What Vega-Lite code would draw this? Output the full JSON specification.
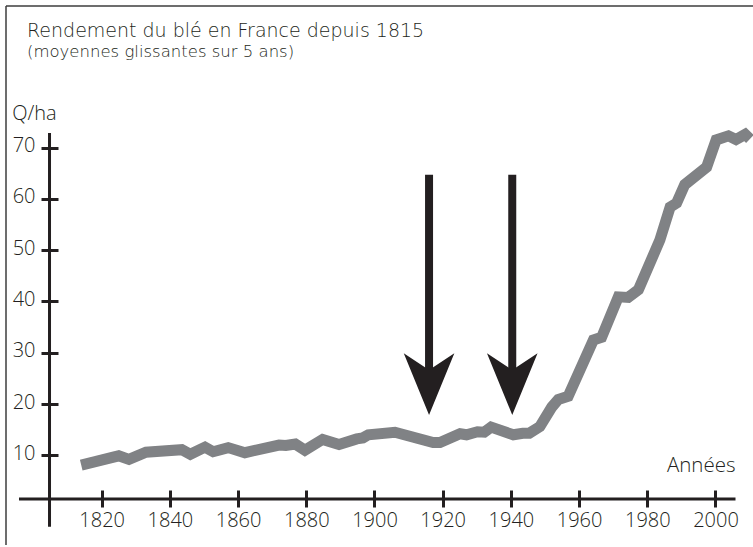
{
  "$schema": "https://vega.github.io/schema/vega-lite/v6.json",
  "width": 753,
  "height": 547,
  "autosize": {"type": "none"},
  "padding": 0,
  "background": "white",
  "config": {"view": {"stroke": null}},
  "title": {
    "text": "Rendement du blé en France depuis 1815",
    "subtitle": "(moyennes glissantes sur 5 ans)",
    "anchor": "start",
    "frame": "group",
    "orient": "top",
    "offset": -60.5,
    "dx": 27,
    "font": "DejaVu Sans",
    "fontWeight": 200,
    "fontSize": 19,
    "color": "#231f20",
    "subtitleFont": "DejaVu Sans",
    "subtitleFontWeight": 200,
    "subtitleFontSize": 16.5,
    "subtitleColor": "#231f20",
    "subtitlePadding": 3.5
  },
  "datasets": {
    "wheat": [
      {"year": 1814, "yield": 8.1},
      {"year": 1825, "yield": 9.9},
      {"year": 1828, "yield": 9.2},
      {"year": 1833, "yield": 10.6},
      {"year": 1843.5, "yield": 11.1},
      {"year": 1846, "yield": 10.2},
      {"year": 1850.3, "yield": 11.6},
      {"year": 1852.7, "yield": 10.7},
      {"year": 1857.1, "yield": 11.5},
      {"year": 1862, "yield": 10.5},
      {"year": 1872, "yield": 12.0},
      {"year": 1874, "yield": 11.9},
      {"year": 1876.8, "yield": 12.2},
      {"year": 1879.6, "yield": 11.0},
      {"year": 1884.8, "yield": 13.1},
      {"year": 1889.6, "yield": 12.1},
      {"year": 1894.8, "yield": 13.2},
      {"year": 1896.6, "yield": 13.4},
      {"year": 1898.2, "yield": 14.0},
      {"year": 1906, "yield": 14.5},
      {"year": 1917.2, "yield": 12.5},
      {"year": 1919.2, "yield": 12.5},
      {"year": 1925.1, "yield": 14.2},
      {"year": 1927, "yield": 14.0},
      {"year": 1930.2, "yield": 14.6},
      {"year": 1932.2, "yield": 14.5},
      {"year": 1934.2, "yield": 15.5},
      {"year": 1940.7, "yield": 14.0},
      {"year": 1943.5, "yield": 14.3},
      {"year": 1945.4, "yield": 14.3},
      {"year": 1948.5, "yield": 15.6},
      {"year": 1952, "yield": 19.4},
      {"year": 1953.9, "yield": 20.9},
      {"year": 1956.8, "yield": 21.5},
      {"year": 1964.2, "yield": 32.5},
      {"year": 1966.6, "yield": 33.0},
      {"year": 1971.5, "yield": 40.9},
      {"year": 1974.4, "yield": 40.8},
      {"year": 1977.4, "yield": 42.3},
      {"year": 1983.7, "yield": 52.0},
      {"year": 1986.7, "yield": 58.4},
      {"year": 1988.6, "yield": 59.2},
      {"year": 1991, "yield": 62.8},
      {"year": 1997.4, "yield": 66.2},
      {"year": 2000.2, "yield": 71.5},
      {"year": 2003.8, "yield": 72.3},
      {"year": 2006, "yield": 71.6},
      {"year": 2008.7, "yield": 72.6},
      {"year": 2010.1, "yield": 71.7}
    ],
    "arrows": [
      {"year": 1916, "top": 64.7, "head": 23.9},
      {"year": 1940.4, "top": 64.7, "head": 23.9}
    ]
  },
  "layer": [
    {
      "data": {"values": [{}]},
      "mark": {"type": "rule", "color": "#3c3c3c", "strokeWidth": 1.5},
      "encoding": {
        "x": {"datum": 1791.94},
        "x2": {"datum": 2015},
        "y": {"datum": 97.63}
      }
    },
    {
      "data": {"values": [{}]},
      "mark": {"type": "rule", "color": "#3c3c3c", "strokeWidth": 1.5},
      "encoding": {
        "x": {"datum": 1791.94},
        "y": {"datum": 97.63},
        "y2": {"datum": -7.5}
      }
    },
    {
      "data": {"values": [{}]},
      "mark": {"type": "rule", "color": "#231f20", "strokeWidth": 3},
      "encoding": {
        "x": {"datum": 1795.75},
        "x2": {"datum": 2005.87},
        "y": {"datum": 1.48}
      }
    },
    {
      "data": {"values": [{}]},
      "mark": {"type": "rule", "color": "#231f20", "strokeWidth": 3},
      "encoding": {
        "x": {"datum": 1804.7},
        "y": {"datum": -3.93},
        "y2": {"datum": 72.86}
      }
    },
    {
      "data": {"name": "wheat"},
      "mark": {"type": "line", "color": "#808285", "strokeWidth": 11, "strokeCap": "butt", "strokeJoin": "miter"},
      "encoding": {
        "x": {
          "field": "year",
          "type": "quantitative",
          "scale": {"domain": [1790.18, 2011.0], "nice": false, "zero": false},
          "axis": {
            "orient": "bottom",
            "offset": -57,
            "values": [1820, 1840, 1860, 1880, 1900, 1920, 1940, 1960, 1980, 2000],
            "format": "d",
            "domain": false,
            "grid": false,
            "tickSize": 17,
            "tickWidth": 3,
            "tickColor": "#231f20",
            "labelPadding": 3,
            "labelFont": "Open Sans",
            "labelFontWeight": 300,
            "labelFontSize": 20,
            "labelColor": "#231f20",
            "labelFlush": false,
            "labelOverlap": false,
            "title": "Années",
            "titleFont": "Open Sans",
            "titleFontWeight": 300,
            "titleFontSize": 20.5,
            "titleColor": "#231f20",
            "titleX": 735,
            "titleY": -18.5,
            "titleAlign": "right",
            "titleBaseline": "alphabetic"
          }
        },
        "y": {
          "field": "yield",
          "type": "quantitative",
          "scale": {"domain": [-7.886, 98.8], "nice": false, "zero": false},
          "axis": {
            "orient": "left",
            "offset": -58,
            "values": [10, 20, 30, 40, 50, 60, 70],
            "domain": false,
            "grid": false,
            "tickSize": 17,
            "tickWidth": 3,
            "tickColor": "#231f20",
            "labelPadding": 6,
            "labelOffset": -2,
            "labelFont": "Open Sans",
            "labelFontWeight": 300,
            "labelFontSize": 20,
            "labelColor": "#231f20",
            "labelFlush": false,
            "labelOverlap": false,
            "title": "Q/ha",
            "titleFont": "Open Sans",
            "titleFontWeight": 300,
            "titleFontSize": 20,
            "titleColor": "#231f20",
            "titleAngle": 0,
            "titleX": -46.3,
            "titleY": 119.5,
            "titleAlign": "left",
            "titleBaseline": "alphabetic"
          }
        }
      }
    },
    {
      "data": {"name": "arrows"},
      "mark": {"type": "rule", "color": "#231f20", "strokeWidth": 8, "strokeCap": "butt"},
      "encoding": {
        "x": {"field": "year", "type": "quantitative"},
        "y": {"field": "top", "type": "quantitative"},
        "y2": {"field": "head"}
      }
    },
    {
      "data": {"name": "arrows"},
      "mark": {"type": "point", "shape": "M0,1.22L-1,-1.22L0,-0.55L1,-1.22Z", "size": 2560, "filled": true, "fill": "#231f20", "opacity": 1, "strokeWidth": 0},
      "encoding": {
        "x": {"field": "year", "type": "quantitative"},
        "y": {"field": "head", "type": "quantitative"}
      }
    }
  ]
}
